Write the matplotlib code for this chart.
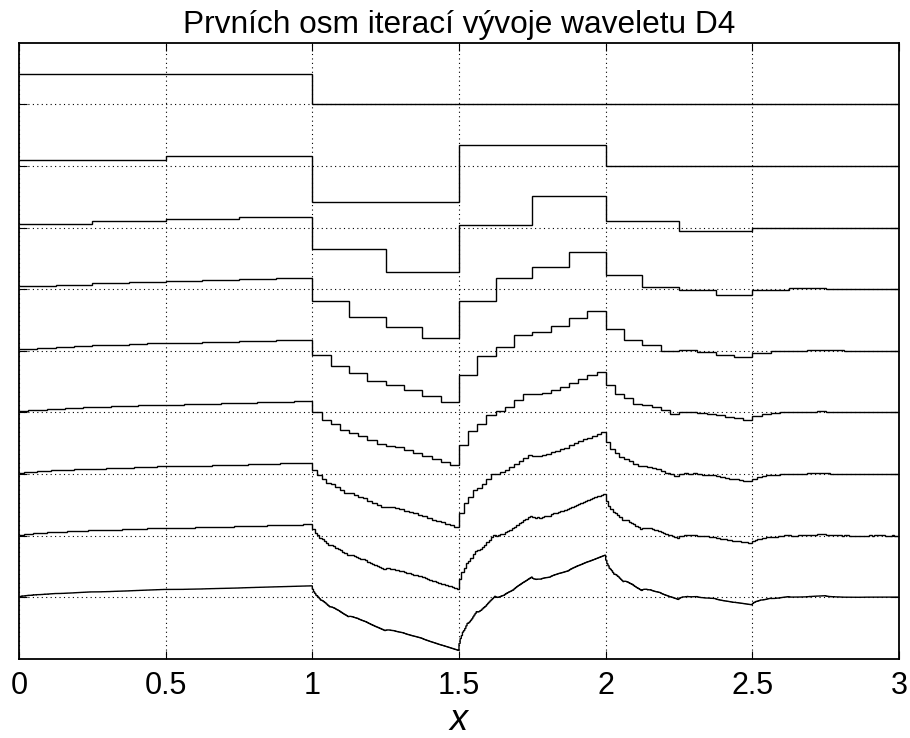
import numpy as np
import matplotlib.pyplot as plt

plt.rcParams['font.family'] = ['Liberation Sans', 'DejaVu Sans']

h = [0.683, 1.183, 0.317, -0.183]   # scaling filter
g = [0.183, 0.317, -1.183, 0.683]   # wavelet filter (sign as drawn)
box = [1.0, 0.0, 0.0]               # starting function on [0,3), step 1
n_iter = 8
offsets = [16, 14, 12, 10, 8, 6, 4, 2, 0]
xticks = [0, 0.5, 1, 1.5, 2, 2.5, 3]
xticklabels = ['0', '0.5', '1', '1.5', '2', '2.5', '3']
title = 'Prvních osm iterací vývoje waveletu D4'


def refine(prev, filt):
    # one cascade step: new[j] = sum_k filt[k] * prev[j - k*M]
    M = len(prev) // 3
    new = np.zeros(2 * len(prev))
    for j in range(len(new)):
        for k, c in enumerate(filt):
            i = j - k * M
            if 0 <= i < len(prev):
                new[j] += c * prev[i]
    return new


curves = [np.array(box)]
phi = np.array(box)
for n in range(n_iter):
    curves.append(refine(phi, g))
    phi = refine(phi, h)

fig = plt.figure(figsize=(9.1, 7.38), dpi=100)
ax = fig.add_axes([19 / 910, (738 - 658.7) / 738, 880 / 910, 616 / 738])

for vals, off in zip(curves, offsets):
    edges = np.linspace(0, 3, len(vals) + 1)
    ax.stairs(vals + off, edges, baseline=None, color='black', linewidth=1.0)

ax.set_xlim(0, 3)
ax.set_ylim(-2, 18)
ax.set_xticks(xticks)
ax.set_xticklabels(xticklabels)
ax.set_yticks(offsets)
ax.set_yticklabels([])
ax.tick_params(direction='in', length=6, width=0.8, top=True, right=True,
               labelsize=22, pad=9)
ax.grid(True, color='black', linestyle=(0, (1, 3)), linewidth=0.8)
for s in ax.spines.values():
    s.set_linewidth(1.3)

ax.set_title(title, fontsize=22.8, pad=7)
ax.set_xlabel('x', fontsize=26, style='italic', labelpad=1)

fig.savefig('out.png', dpi=100)
